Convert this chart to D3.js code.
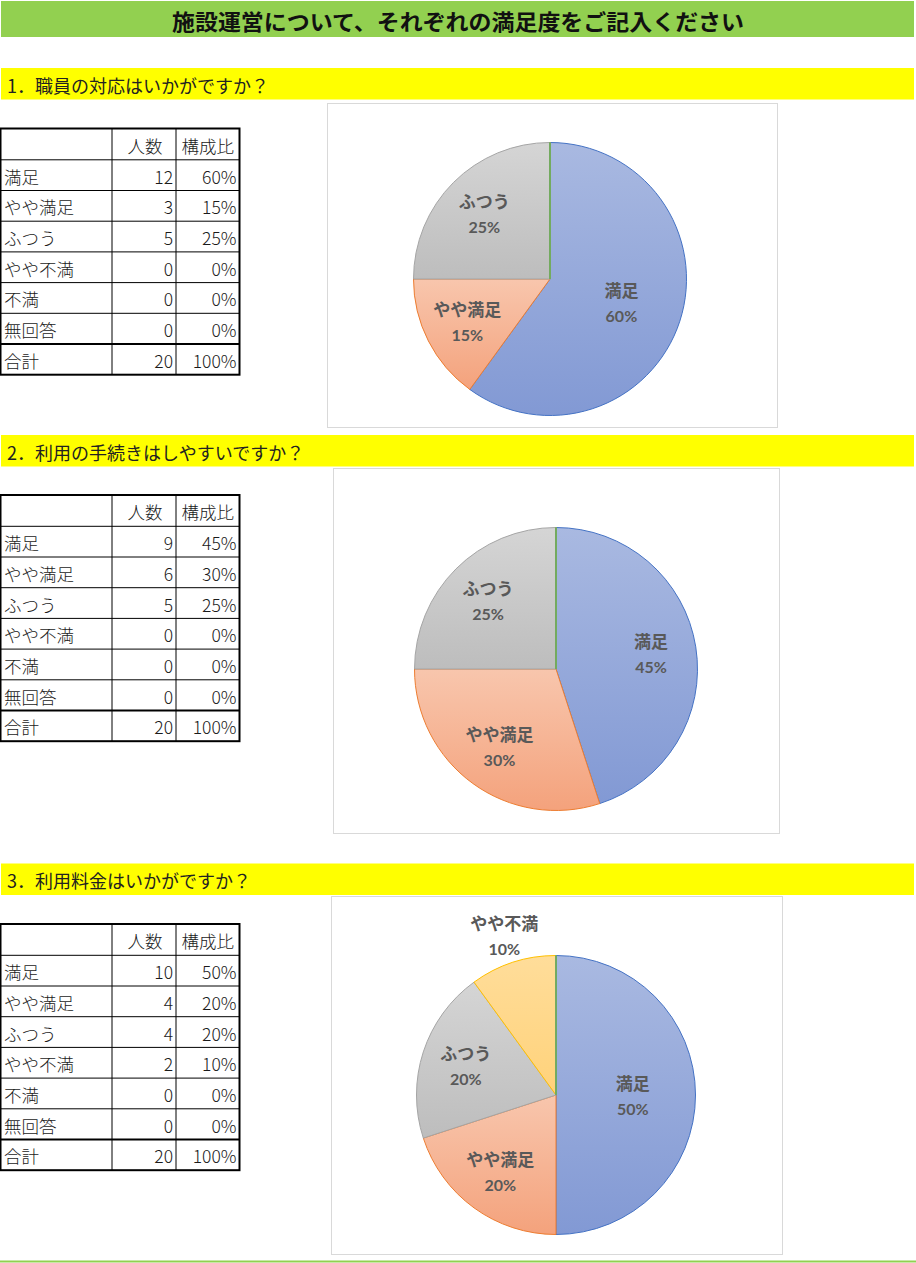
<!DOCTYPE html>
<html lang="ja">
<head>
<meta charset="utf-8">
<script src="https://cdn.jsdelivr.net/npm/d3@7"></script>
<style>
  html, body { margin: 0; padding: 0; background: #fff; }
  svg { display: block; }
</style>
</head>
<body>
<div id="sheet"></div>
<script>
// ---- survey data ----
const pageTitle = '施設運営について、それぞれの満足度をご記入ください';
const questions = [
  '1．職員の対応はいかがですか？',
  '2．利用の手続きはしやすいですか？',
  '3．利用料金はいかがですか？'
];
const categories = ['満足', 'やや満足', 'ふつう', 'やや不満', '不満', '無回答'];
const countsQ1 = [12, 3, 5, 0, 0, 0];
const countsQ2 = [9, 6, 5, 0, 0, 0];
const countsQ3 = [10, 4, 4, 2, 0, 0];
const tableHeaders = ['人数', '構成比'];
const totalLabel = '合計';

// ---- page layout ----
const W = 916, H = 1263;
const sections = [
  { counts: countsQ1, barY: 68,    tableY: 128.5, box: [327, 103, 450, 324], cx: 550, cy: 279,  r: 136.5 },
  { counts: countsQ2, barY: 435,   tableY: 495,   box: [333, 468, 446, 365], cx: 556, cy: 669,  r: 141.5 },
  { counts: countsQ3, barY: 863.5, tableY: 924,   box: [331, 896, 451, 358], cx: 556, cy: 1095, r: 139.5 }
];
const barH = 31.5;
const colX = [0.5, 112, 176, 239.5];
const headerH = 31.3, rowH = 30.7;

// slice colours: [edge, gradient top, gradient bottom]
const palette = [
  ['#4472C4', '#A9B9E1', '#8299D4'],
  ['#ED7D31', '#F8C6AD', '#F4A27C'],
  ['#A5A5A5', '#D5D5D5', '#BDBDBD'],
  ['#FFC000', '#FFDD9A', '#FFD27A'],
  ['#5B9BD5', '#B4CFEA', '#97BDE3'],
  ['#70AD47', '#B5D7A0', '#97C878']
];

const svg = d3.select('#sheet').append('svg')
  .attr('width', W).attr('height', H)
  .attr('viewBox', `0 0 ${W} ${H}`);

const defs = svg.append('defs');
palette.forEach((c, i) => {
  const g = defs.append('linearGradient')
    .attr('id', 'grad' + i)
    .attr('x1', 0).attr('y1', 0).attr('x2', 0).attr('y2', 1);
  g.append('stop').attr('offset', '0%').attr('stop-color', c[1]);
  g.append('stop').attr('offset', '100%').attr('stop-color', c[2]);
});

const jpFont = '"Noto Sans CJK JP", "Noto Sans", sans-serif';

// ---- title band ----
svg.append('rect')
  .attr('x', 1).attr('y', 1).attr('width', 913).attr('height', 36)
  .attr('fill', '#92D050');
svg.append('text')
  .attr('x', 458).attr('y', 19.5)
  .attr('text-anchor', 'middle')
  .attr('dominant-baseline', 'central')
  .attr('font-family', jpFont)
  .attr('font-weight', 700)
  .attr('font-size', 22)
  .attr('textLength', 572)
  .attr('lengthAdjust', 'spacingAndGlyphs')
  .attr('fill', '#111')
  .text(pageTitle);

// bottom rule
svg.append('line')
  .attr('x1', 0).attr('x2', W).attr('y1', 1261.5).attr('y2', 1261.5)
  .attr('stroke', '#92D050').attr('stroke-width', 2);

const pie = d3.pie().sort(null).value(d => d.value);

sections.forEach((s, qi) => {
  const total = d3.sum(s.counts);
  const rows = categories.map((c, i) => ({ name: c, value: s.counts[i], idx: i }));
  const pct = v => Math.round(v / total * 100) + '%';

  // question band
  svg.append('rect')
    .attr('x', 1).attr('y', s.barY).attr('width', 913).attr('height', barH)
    .attr('fill', '#FFFF00');
  svg.append('text')
    .attr('x', 7).attr('y', s.barY + barH / 2 + 1)
    .attr('dominant-baseline', 'central')
    .attr('font-family', jpFont)
    .attr('font-size', 18)
    .attr('fill', '#222')
    .text(questions[qi]);

  // ---- summary table ----
  const t = svg.append('g').attr('class', 'table');
  const rowTop = i => s.tableY + headerH + i * rowH;
  const bottom = rowTop(rows.length + 1);
  const lineY = [s.tableY];
  for (let i = 0; i <= rows.length + 1; i++) lineY.push(rowTop(i));

  const txt = (x, y, str, anchor) => t.append('text')
    .attr('x', x).attr('y', y)
    .attr('text-anchor', anchor)
    .attr('dominant-baseline', 'central')
    .attr('font-family', jpFont)
    .attr('font-weight', 300)
    .attr('font-size', 17.5)
    .attr('fill', '#1a1a1a')
    .text(str);

  txt((colX[1] + colX[2]) / 2 + 1, s.tableY + headerH / 2 + 1, tableHeaders[0], 'middle');
  txt((colX[2] + colX[3]) / 2, s.tableY + headerH / 2 + 1, tableHeaders[1], 'middle');
  rows.forEach((d, i) => {
    const cy = rowTop(i) + rowH / 2 + 1;
    txt(4, cy, d.name, 'start');
    txt(colX[2] - 3, cy, d.value, 'end');
    txt(colX[3] - 3, cy, pct(d.value), 'end');
  });
  const ty = rowTop(rows.length) + rowH / 2 + 1;
  txt(4, ty, totalLabel, 'start');
  txt(colX[2] - 3, ty, total, 'end');
  txt(colX[3] - 3, ty, pct(total), 'end');

  // grid lines
  lineY.slice(1, -1).forEach((y, i) => {
    const heavy = i === rows.length;
    t.append('line')
      .attr('x1', colX[0]).attr('x2', colX[3])
      .attr('y1', y).attr('y2', y)
      .attr('stroke', '#000').attr('stroke-width', heavy ? 2 : 1);
  });
  [colX[1], colX[2]].forEach(x => {
    t.append('line')
      .attr('x1', x).attr('x2', x)
      .attr('y1', s.tableY).attr('y2', bottom)
      .attr('stroke', '#000').attr('stroke-width', 1);
  });
  t.append('rect')
    .attr('x', colX[0]).attr('y', s.tableY)
    .attr('width', colX[3] - colX[0]).attr('height', bottom - s.tableY)
    .attr('fill', 'none').attr('stroke', '#000').attr('stroke-width', 2);

  // ---- pie chart ----
  const [bx, by, bw, bh] = s.box;
  svg.append('rect')
    .attr('x', bx + 0.5).attr('y', by + 0.5).attr('width', bw).attr('height', bh)
    .attr('fill', '#fff').attr('stroke', '#D9D9D9').attr('stroke-width', 1);

  const arcs = pie(rows);
  const arc = d3.arc().innerRadius(0).outerRadius(s.r);
  const g = svg.append('g').attr('transform', `translate(${s.cx},${s.cy})`);

  g.selectAll('path.slice')
    .data(arcs)
    .join('path')
    .attr('class', 'slice')
    .attr('d', arc)
    .attr('fill', d => `url(#grad${d.data.idx})`)
    .attr('stroke', d => palette[d.data.idx][0])
    .attr('stroke-width', 1)
    .attr('stroke-linejoin', 'round');

  // data labels: name + share, inside the slice, or outside when the slice is narrow
  const labelled = arcs.filter(d => d.data.value > 0);
  const lab = g.selectAll('g.lab')
    .data(labelled)
    .join('g')
    .attr('class', 'lab')
    .attr('transform', d => {
      const share = d.data.value / total;
      const k = share < 0.12 ? 1.2 : (share >= 0.5 ? 0.55 : 0.68);
      const a = (d.startAngle + d.endAngle) / 2;
      return `translate(${Math.sin(a) * s.r * k},${-Math.cos(a) * s.r * k})`;
    });
  lab.append('text')
    .attr('y', -13)
    .attr('text-anchor', 'middle')
    .attr('dominant-baseline', 'central')
    .attr('font-family', jpFont)
    .attr('font-weight', 700)
    .attr('font-size', 17)
    .attr('fill', '#595959')
    .text(d => d.data.name);
  lab.append('text')
    .attr('y', 13)
    .attr('text-anchor', 'middle')
    .attr('dominant-baseline', 'central')
    .attr('font-family', 'Lato, "Noto Sans", sans-serif')
    .attr('font-weight', 700)
    .attr('font-size', 16)
    .attr('fill', '#595959')
    .text(d => pct(d.data.value));
});
</script>
</body>
</html>
